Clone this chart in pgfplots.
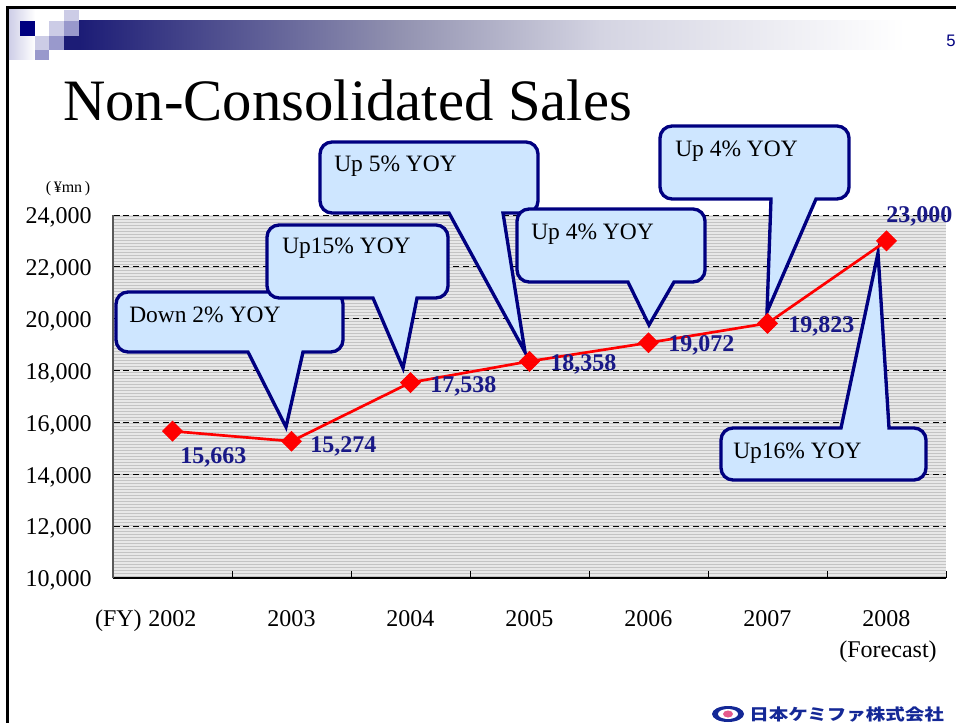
\documentclass[border=0pt]{standalone}
\usepackage{pgfplots}
\pgfplotsset{compat=1.18}
\usepackage{pgfplotstable}
\usepackage{fontspec}
\setmainfont{Liberation Serif}
\newfontfamily\sansf{Liberation Sans}
\newfontfamily\cjk{Noto Sans CJK JP}
\definecolor{navyL}{RGB}{25,25,135}
\definecolor{cfill}{RGB}{206,230,255}
\definecolor{cdraw}{RGB}{0,0,128}
\definecolor{sq1}{RGB}{204,204,230}
\definecolor{sq2}{RGB}{153,153,204}
\definecolor{hdnavy}{RGB}{0,0,128}
\definecolor{bar1}{RGB}{28,28,118}
\definecolor{bar2}{RGB}{146,146,176}
\definecolor{bar3}{RGB}{212,212,226}
\definecolor{stripeA}{RGB}{232,232,232}
\definecolor{stripeB}{RGB}{196,196,196}
\definecolor{logoblue}{RGB}{20,40,150}
\definecolor{logopink}{RGB}{230,90,140}

\pgfplotstableread{
x y lab dx dy
0 15663 15,663 5.6 -19.7
1 15274 15,274 13.9 -3.75
2 17538 17,538 14.6 -3.2
3 18358 18,358 15.4 -2.25
4 19072 19,072 14.6 -2.25
5 19823 19,823 15.4 -2.6
6 23000 23,000 -0.4 18.1
}\sales

% corner radius 12, control offset 6.6
% L T R B p1 p2 tx ty  (pointer on bottom edge)
\newcommand\calloutdown[8]{%
  \filldraw[fill=cfill, draw=cdraw, line width=2.5pt, line join=miter]
   (#7,#8) -- (#5,#4) -- ({#1+12},#4) .. controls ({#1+5.4},#4) and (#1,{#4-5.4}) .. (#1,{#4-12})
   -- (#1,{#2+12}) .. controls (#1,{#2+5.4}) and ({#1+5.4},#2) .. ({#1+12},#2)
   -- ({#3-12},#2) .. controls ({#3-5.4},#2) and (#3,{#2+5.4}) .. (#3,{#2+12})
   -- (#3,{#4-12}) .. controls (#3,{#4-5.4}) and ({#3-5.4},#4) .. ({#3-12},#4)
   -- (#6,#4) -- cycle;
}
% L T R B p1 p2 tx ty  (pointer on top edge)
\newcommand\calloutup[8]{%
  \filldraw[fill=cfill, draw=cdraw, line width=2.5pt, line join=miter]
   (#7,#8) -- (#6,#2) -- ({#3-12},#2) .. controls ({#3-5.4},#2) and (#3,{#2+5.4}) .. (#3,{#2+12})
   -- (#3,{#4-12}) .. controls (#3,{#4-5.4}) and ({#3-5.4},#4) .. ({#3-12},#4)
   -- ({#1+12},#4) .. controls ({#1+5.4},#4) and (#1,{#4-5.4}) .. (#1,{#4-12})
   -- (#1,{#2+12}) .. controls (#1,{#2+5.4}) and ({#1+5.4},#2) .. ({#1+12},#2)
   -- (#5,#2) -- cycle;
}

\begin{document}
\begin{tikzpicture}
\begin{scope}[x=0.75pt,y=-0.75pt]
  \fill[white] (0,0) rectangle (956,723);
  % header decoration
  \shade[left color=sq1, right color=white] (8,10) rectangle (35,60);
  \shade[left color=bar1, right color=bar2] (79,21) rectangle (400,50);
  \shade[left color=bar2, right color=bar3] (399.5,21) rectangle (600,50);
  \shade[left color=bar3, right color=white] (599.5,21) rectangle (905,50);
  \fill[hdnavy] (20,21) rectangle (35,36);
  \fill[sq1] (64,10) rectangle (79,21);
  \fill[sq1] (49,21) rectangle (64,36);
  \fill[sq2] (64,21) rectangle (79,36);
  \fill[sq1] (35,36) rectangle (49,50);
  \fill[sq2] (49,36) rectangle (64,50);
  \fill[bar1] (64,36) rectangle (79.5,50);
  \fill[sq2] (35,50) rectangle (49,60);
  % frame
  \draw[black, line width=2.25pt] (7,723) -- (7,7.5) -- (956,7.5);
  % title and page number
  \node[anchor=base west, inner sep=0pt, font=\fontsize{44}{50}\selectfont] at (63,121) {Non-Consolidated Sales};
  \node[anchor=base west, inner sep=0pt, text=hdnavy, font=\sansf\fontsize{12.5}{14}\selectfont] at (946,47) {5};
  % plot background stripes
  \fill[stripeA] (113,215) rectangle (946,578);
  \foreach \yy in {216.5,219.5,...,577} \draw[stripeB, line width=0.8pt] (113,\yy) -- (946,\yy);
\end{scope}

\begin{axis}[
  at={(84.75pt,-433.5pt)}, anchor=south west,
  width=624.75pt, height=272.25pt, scale only axis,
  xmin=-0.5, xmax=6.5, ymin=10000, ymax=24000,
  scaled y ticks=false, scaled x ticks=false,
  axis x line*=bottom, axis y line*=left,
  x axis line style={-, black, line width=0.8pt},
  y axis line style={-, black!65, line width=0.8pt},
  xtick={-0.5,0.5,...,6.5}, xticklabels={},
  extra x ticks={0,1,2,3,4,5,6},
  extra x tick labels={2002,2003,2004,2005,2006,2007,2008},
  extra x tick style={major tick length=0pt, grid=none},
  x tick label style={anchor=base, yshift=-36pt, inner sep=0pt},
  ytick={10000,12000,...,24000},
  yticklabels={{10,000},{12,000},{14,000},{16,000},{18,000},{20,000},{22,000},{24,000}},
  y tick label style={anchor=east, inner sep=0pt, xshift=-15.75pt, yshift=-2pt},
  tick label style={font=\fontsize{18}{20}\selectfont},
  tick align=inside, major tick length=5.5pt,
  tick style={black, line width=0.7pt},
  ymajorgrids, xmajorgrids=false,
  grid style={dash pattern=on 4.5pt off 3pt, black, line width=0.6pt},
]
\end{axis}

\begin{scope}[x=0.75pt,y=-0.75pt]
  \calloutdown{116}{292}{343}{352}{248}{303}{286}{427}
  \node[anchor=base west, inner sep=0pt, font=\fontsize{17.6}{20}\selectfont] at (129,323) {Down 2\% YOY};
  \calloutdown{267}{225}{448}{298}{373}{417}{403}{368}
  \node[anchor=base west, inner sep=0pt, font=\fontsize{17.6}{20}\selectfont] at (282,254) {Up15\% YOY};
  \calloutdown{320}{142}{538}{213}{449}{503}{525}{352}
  \node[anchor=base west, inner sep=0pt, font=\fontsize{17.6}{20}\selectfont] at (334,172) {Up 5\% YOY};
  \calloutdown{517}{209}{705}{282}{628}{674}{649}{325}
  \node[anchor=base west, inner sep=0pt, font=\fontsize{17.6}{20}\selectfont] at (531,240) {Up 4\% YOY};
  \calloutdown{660}{126}{849}{199}{771}{816}{767}{312}
  \node[anchor=base west, inner sep=0pt, font=\fontsize{17.6}{20}\selectfont] at (675,157) {Up 4\% YOY};
  \calloutup{721}{428}{926}{480}{841}{889}{878}{253}
  \node[anchor=base west, inner sep=0pt, font=\fontsize{17.6}{20}\selectfont] at (733,458) {Up16\% YOY};
  % axis extras
  \node[anchor=base east, inner sep=0pt, font=\fontsize{18}{20}\selectfont] at (142,626) {(FY)};
  \node[anchor=base, inner sep=0pt, font=\fontsize{18}{20}\selectfont] at (888,657) {(Forecast)};
  \node[anchor=base, inner sep=0pt, font=\fontsize{12}{14}\selectfont] at (68,193) {(\,¥mn\,)};
  % footer logo
  \fill[logoblue] (728,714) ellipse [x radius=16, y radius=8];
  \fill[white] (728,714) ellipse [x radius=10, y radius=5];
  \fill[logopink] (728,714) ellipse [x radius=5, y radius=3.5];
  \node[anchor=west, inner sep=0pt, xscale=1.22, text=logoblue, font=\cjk\bfseries\fontsize{12}{14}\selectfont] at (749,714) {日本ケミファ株式会社};
\end{scope}

\begin{axis}[
  at={(84.75pt,-433.5pt)}, anchor=south west,
  width=624.75pt, height=272.25pt, scale only axis,
  xmin=-0.5, xmax=6.5, ymin=10000, ymax=24000,
  hide axis, clip=false,
]
\addplot[red, line width=2pt, mark=square*, mark size=5.3pt,
  mark options={solid, rotate=45, fill=red, draw=red, line width=0.5pt},
  point meta=explicit symbolic,
  visualization depends on={\thisrow{dx}\as\dxv},
  visualization depends on={\thisrow{dy}\as\dyv},
  nodes near coords={\pgfplotspointmeta},
  every node near coord/.append style={anchor=west, inner sep=0pt,
     xshift=\dxv pt, yshift=\dyv pt, text=navyL,
     font=\bfseries\fontsize{18}{20}\selectfont},
] table[x=x, y=y, meta=lab] {\sales};
\end{axis}
\pgfresetboundingbox
\path[use as bounding box] (0pt,0pt) rectangle (717pt,-542.25pt);
\end{tikzpicture}
\end{document}
